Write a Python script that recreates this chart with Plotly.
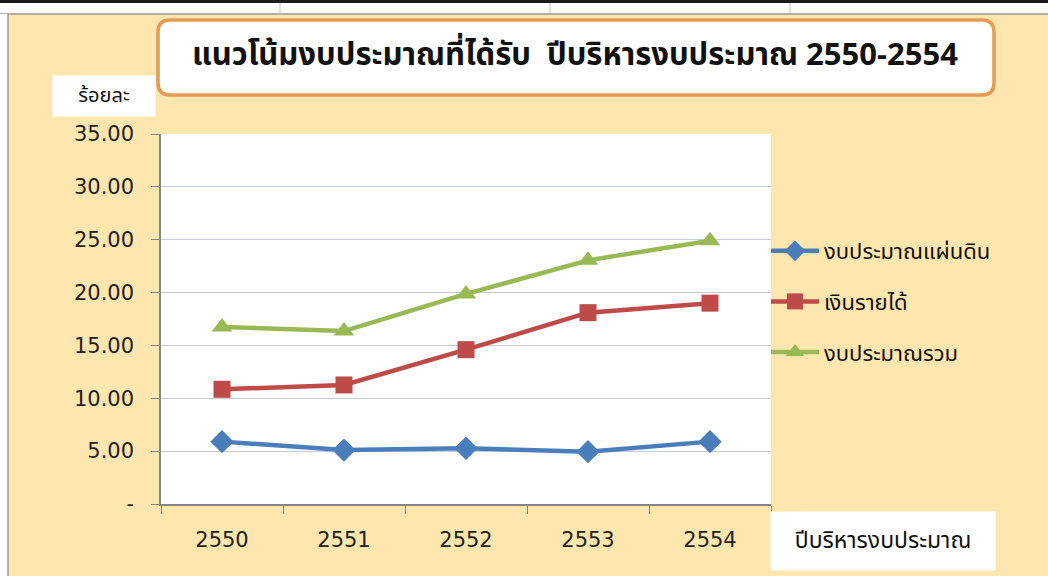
import plotly.graph_objects as go

years = ["2550", "2551", "2552", "2553", "2554"]
national_budget = [5.90, 5.10, 5.27, 4.95, 5.90]
income = [10.85, 11.26, 14.60, 18.10, 19.00]
total_budget = [16.75, 16.36, 19.87, 23.05, 24.90]
series_names = ["งบประมาณแผ่นดิน", "เงินรายได้", "งบประมาณรวม"]
ytick_vals = [0, 5, 10, 15, 20, 25, 30, 35]
ytick_text = ["-", "5.00", "10.00", "15.00", "20.00", "25.00", "30.00", "35.00"]
title_text = "แนวโน้มงบประมาณที่ได้รับ  ปีบริหารงบประมาณ 2550-2554"
ytitle_text = "ร้อยละ"
xtitle_text = "ปีบริหารงบประมาณ"

W, H = 1048, 576
L, R, T, B = 161, 771, 134, 504

def px(x):
    return (x - L) / (R - L)

def py(y):
    return (B - y) / (B - T)

THAI = "Noto Sans Thai, Loma, Garuda, Tahoma, DejaVu Sans, sans-serif"
NUM = "DejaVu Sans, Tahoma, sans-serif"

fig = go.Figure()
styles = [
    (national_budget, "#4A7EBB", "diamond", 18),
    (income, "#BE4B48", "square", 17),
    (total_budget, "#98B954", "triangle-up", 18),
]
for i, (vals, col, sym, sz) in enumerate(styles):
    fig.add_trace(go.Scatter(
        x=years, y=vals, name=series_names[i], mode="lines+markers",
        line=dict(color=col, width=4.5),
        marker=dict(symbol=sym, size=sz, color=col, line=dict(width=0)),
        legendgroup=f"g{i}",
    ))

def rounded_rect(x0, y0, x1, y1, r):
    return (f"M {px(x0 + r)},{py(y0)} L {px(x1 - r)},{py(y0)} "
            f"Q {px(x1)},{py(y0)} {px(x1)},{py(y0 + r)} "
            f"L {px(x1)},{py(y1 - r)} Q {px(x1)},{py(y1)} {px(x1 - r)},{py(y1)} "
            f"L {px(x0 + r)},{py(y1)} Q {px(x0)},{py(y1)} {px(x0)},{py(y1 - r)} "
            f"L {px(x0)},{py(y0 + r)} Q {px(x0)},{py(y0)} {px(x0 + r)},{py(y0)} Z")

shapes = [
    dict(type="rect", xref="paper", yref="paper", x0=px(0), x1=px(W), y0=py(0), y1=py(14),
         fillcolor="white", line=dict(width=0), layer="below"),
    dict(type="rect", xref="paper", yref="paper", x0=px(0), x1=px(W), y0=py(0), y1=py(3),
         fillcolor="#1a1a1a", line=dict(width=0), layer="below"),
    dict(type="line", xref="paper", yref="paper", x0=px(0), x1=px(W), y0=py(14), y1=py(14),
         line=dict(color="#9a9a90", width=1.5), layer="below"),
    dict(type="rect", xref="paper", yref="paper", x0=px(0), x1=px(8), y0=py(14), y1=py(H),
         fillcolor="white", line=dict(width=0), layer="below"),
    dict(type="line", xref="paper", yref="paper", x0=px(8), x1=px(8), y0=py(14), y1=py(H),
         line=dict(color="#9a9a90", width=1.5), layer="below"),
    dict(type="path", xref="paper", yref="paper", path=rounded_rect(158, 20, 994, 95, 12),
         fillcolor="white", line=dict(color="#E59A55", width=3.5), layer="below"),
]
for xv in [280, 550, 790]:
    shapes.append(dict(type="line", xref="paper", yref="paper", x0=px(xv), x1=px(xv),
                       y0=py(3), y1=py(13), line=dict(color="#bbbbbb", width=1), layer="below"))

annotations = [
    dict(text=f"<b>{title_text}</b>", xref="paper", yref="paper", x=px(575), y=py(56),
         xanchor="center", yanchor="middle", showarrow=False,
         font=dict(family=THAI, size=31, color="#111111")),
    dict(text=ytitle_text, xref="paper", yref="paper", x=px(104), y=py(96),
         xanchor="center", yanchor="middle", showarrow=False, bgcolor="white",
         borderpad=5, width=92, font=dict(family=THAI, size=20, color="#111111")),
    dict(text=xtitle_text, xref="paper", yref="paper", x=px(883), y=py(541),
         xanchor="center", yanchor="middle", showarrow=False, bgcolor="white",
         borderpad=12, width=200, font=dict(family=THAI, size=23, color="#111111")),
]

fig.update_layout(
    width=W, height=H,
    margin=dict(l=L, r=W - R, t=T, b=H - B),
    paper_bgcolor="#FEE7AE",
    plot_bgcolor="white",
    showlegend=True,
    legend=dict(x=px(766), xanchor="left", y=py(230), yanchor="top",
                font=dict(family=THAI, size=22, color="#111111"),
                bgcolor="rgba(0,0,0,0)", tracegroupgap=19, itemwidth=48,
                traceorder="grouped"),
    shapes=shapes,
    annotations=annotations,
    xaxis=dict(type="category", range=[-0.5, 4.5], tickson="boundaries",
               ticks="outside", ticklen=8, tickcolor="#868686",
               showline=True, linecolor="#868686", linewidth=1.5,
               showgrid=False, ticklabelstandoff=16,
               tickfont=dict(family=NUM, size=21, color="#222222")),
    yaxis=dict(range=[0, 35], tickvals=ytick_vals, ticktext=ytick_text,
               ticks="outside", ticklen=8, tickcolor="#868686",
               showline=True, linecolor="#868686", linewidth=1.5,
               showgrid=True, gridcolor="#C5CCD8", gridwidth=1,
               zeroline=False, ticklabelstandoff=13,
               tickfont=dict(family=NUM, size=21, color="#222222")),
)

fig.write_html("out.html", post_script="document.body.style.margin='0';",
               config={"displayModeBar": False})
